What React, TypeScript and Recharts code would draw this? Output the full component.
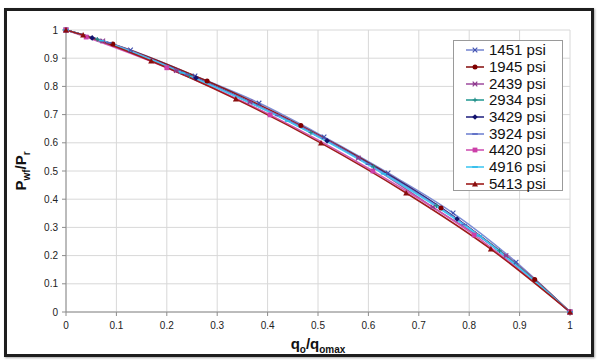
import React from "react";
import {
    LineChart, Line,
    XAxis, YAxis, CartesianGrid,
} from "recharts";

// ─── Data ────────────────────────────────────────────────────────────────────

const xTicks = [0, 0.1, 0.2, 0.3, 0.4, 0.5, 0.6, 0.7, 0.8, 0.9, 1];
const yTicks = [0, 0.1, 0.2, 0.3, 0.4, 0.5, 0.6, 0.7, 0.8, 0.9, 1];

const x1451 = [0, 0.128, 0.256, 0.383, 0.512, 0.639, 0.768, 0.893, 1];
const y1451 = [1, 0.929, 0.837, 0.741, 0.621, 0.493, 0.351, 0.177, 0];

const x1945 = [0, 0.093, 0.28, 0.466, 0.744, 0.93, 1];
const y1945 = [1, 0.95, 0.819, 0.661, 0.369, 0.115, 0];

const x2439 = [0, 0.073, 0.219, 0.365, 0.58, 0.728, 0.873, 1];
const y2439 = [1, 0.961, 0.856, 0.745, 0.546, 0.372, 0.2, 0];

const x2934 = [0, 0.062, 0.245, 0.486, 0.61, 0.735, 0.86, 1];
const y2934 = [1, 0.967, 0.838, 0.636, 0.515, 0.377, 0.217, 0];

const x3429 = [0, 0.052, 0.258, 0.518, 0.776, 1];
const y3429 = [1, 0.972, 0.83, 0.607, 0.33, 0];

const x3924 = [0, 0.085, 0.24, 0.42, 0.6, 0.79, 1];
const y3924 = [1, 0.955, 0.842, 0.697, 0.524, 0.31, 0];

const x4420 = [0, 0.04, 0.2, 0.405, 0.609, 0.81, 1];
const y4420 = [1, 0.975, 0.866, 0.699, 0.5, 0.273, 0];

const x4916 = [0, 0.07, 0.23, 0.44, 0.63, 0.82, 1];
const y4916 = [1, 0.962, 0.848, 0.677, 0.49, 0.27, 0];

const x5413 = [0, 0.034, 0.169, 0.337, 0.506, 0.675, 0.843, 1];
const y5413 = [1, 0.982, 0.89, 0.755, 0.599, 0.422, 0.223, 0];

const toPts = (xs: number[], ys: number[]) => xs.map((x, i) => ({ x, y: ys[i] }));

type Shape = "x" | "circle" | "star" | "plus" | "diamond" | "dash" | "square" | "triangle";

const SERIES: { name: string; data: { x: number; y: number }[]; line: string; mark: string; shape: Shape }[] = [
    { name: "1451 psi", data: toPts(x1451, y1451), line: "#7C8CD4", mark: "#3F4FAF", shape: "x" },
    { name: "1945 psi", data: toPts(x1945, y1945), line: "#8B1A1A", mark: "#800000", shape: "circle" },
    { name: "2439 psi", data: toPts(x2439, y2439), line: "#A455A4", mark: "#8E3A8E", shape: "star" },
    { name: "2934 psi", data: toPts(x2934, y2934), line: "#2E9E98", mark: "#1E8A85", shape: "plus" },
    { name: "3429 psi", data: toPts(x3429, y3429), line: "#2B2B85", mark: "#14146E", shape: "diamond" },
    { name: "3924 psi", data: toPts(x3924, y3924), line: "#7485D2", mark: "#5566C0", shape: "dash" },
    { name: "4420 psi", data: toPts(x4420, y4420), line: "#D056B4", mark: "#CC3FA8", shape: "square" },
    { name: "4916 psi", data: toPts(x4916, y4916), line: "#45C8F2", mark: "#2BB8E8", shape: "dash" },
    { name: "5413 psi", data: toPts(x5413, y5413), line: "#9E1B1B", mark: "#8A0E0E", shape: "triangle" },
];

const FONT = "'Liberation Sans', Arial, sans-serif";

// ─── Markers ──────────────────────────────────────────────────────────────────

function Marker({ cx, cy, shape, color }: { cx: number; cy: number; shape: Shape; color: string }) {
    const r = 2.3;
    switch (shape) {
        case "x":
            return (
                <g stroke={color} strokeWidth={1.1}>
                    <line x1={cx - r} y1={cy - r} x2={cx + r} y2={cy + r} />
                    <line x1={cx - r} y1={cy + r} x2={cx + r} y2={cy - r} />
                </g>
            );
        case "circle":
            return <circle cx={cx} cy={cy} r={2.5} fill={color} />;
        case "star":
            return (
                <g stroke={color} strokeWidth={1.2}>
                    <line x1={cx - r} y1={cy - r} x2={cx + r} y2={cy + r} />
                    <line x1={cx - r} y1={cy + r} x2={cx + r} y2={cy - r} />
                    <line x1={cx - r} y1={cy} x2={cx + r} y2={cy} />
                </g>
            );
        case "plus":
            return (
                <g stroke={color} strokeWidth={1.1}>
                    <line x1={cx - r} y1={cy} x2={cx + r} y2={cy} />
                    <line x1={cx} y1={cy - r} x2={cx} y2={cy + r} />
                </g>
            );
        case "diamond":
            return <polygon points={`${cx},${cy - 2.8} ${cx + 2.8},${cy} ${cx},${cy + 2.8} ${cx - 2.8},${cy}`} fill={color} />;
        case "dash":
            return <line x1={cx - 2.8} y1={cy} x2={cx + 2.8} y2={cy} stroke={color} strokeWidth={1.5} />;
        case "square":
            return <rect x={cx - 2.4} y={cy - 2.4} width={4.8} height={4.8} fill={color} />;
        case "triangle":
            return <polygon points={`${cx},${cy - 3} ${cx + 3},${cy + 2.4} ${cx - 3},${cy + 2.4}`} fill={color} />;
    }
    return null;
}

const makeDot = (shape: Shape, color: string) => (p: any) => (
    <Marker key={`${shape}-${p.index}`} cx={p.cx} cy={p.cy} shape={shape} color={color} />
);

// ─── Legend (absolute, Excel-style box) ─────────────────────────────────────

function LegendBox() {
    return (
        <div style={{
            position: "absolute", left: 453, top: 40,
            border: "1px solid #9A9A9A", background: "#fff", width: 110, height: 151,
            boxSizing: "border-box", padding: "1px 0 0 11px", fontFamily: FONT,
        }}>
            {SERIES.map((s) => (
                <div key={s.name} style={{ display: "flex", alignItems: "center", height: 16.7 }}>
                    <svg width={20} height={10} style={{ marginRight: 4 }}>
                        <line x1={1} y1={5} x2={19} y2={5} stroke={s.line} strokeWidth={1.6} />
                        <Marker cx={10} cy={5} shape={s.shape} color={s.mark} />
                    </svg>
                    <span style={{ fontSize: 15, color: "#111", lineHeight: "16px" }}>{s.name}</span>
                </div>
            ))}
        </div>
    );
}

// ─── Axis titles with subscripts ─────────────────────────────────────────────

function YTitle() {
    return (
        <text x={26} y={171} transform="rotate(-90 26 171)" textAnchor="middle"
            fontFamily={FONT} fontWeight="bold" fontSize={15} fill="#111">
            <tspan>P</tspan>
            <tspan fontSize={10} dy={4}>wf</tspan>
            <tspan dy={-4}>/P</tspan>
            <tspan fontSize={10} dy={4}>r</tspan>
        </text>
    );
}

function XTitle() {
    return (
        <text x={318} y={349} textAnchor="middle"
            fontFamily={FONT} fontWeight="bold" fontSize={15} fill="#111">
            <tspan>q</tspan>
            <tspan fontSize={10} dy={4}>o</tspan>
            <tspan dy={-4}>/q</tspan>
            <tspan fontSize={10} dy={4}>omax</tspan>
        </text>
    );
}

const TICK = { fill: "#222", fontSize: 10, fontFamily: FONT };

export default function App() {
    return (
        <div style={{ position: "absolute", left: 0, top: 0, width: 600, height: 362, background: "#fff" }}>
            <div style={{
                position: "absolute", left: 4, top: 8, width: 590, height: 349,
                border: "3px solid #1E1E1E", boxSizing: "border-box",
                boxShadow: "1px 1px 2px rgba(0,0,0,0.35)",
            }} />
            <div style={{ position: "absolute", left: 0, top: 0 }}>
                <LineChart width={600} height={362} margin={{ top: 30, right: 30, bottom: 20, left: 26 }}>
                    <CartesianGrid stroke="#D8D8D8" strokeWidth={1} />
                    <XAxis
                        type="number"
                        dataKey="x"
                        domain={[0, 1]}
                        ticks={xTicks}
                        tick={TICK}
                        height={30}
                        stroke="#8C8C8C"
                        tickSize={4}
                        tickMargin={6}
                        allowDuplicatedCategory={false}
                    />
                    <YAxis
                        type="number"
                        dataKey="y"
                        domain={[0, 1]}
                        ticks={yTicks}
                        tick={TICK}
                        width={40}
                        stroke="#8C8C8C"
                        tickSize={4}
                        tickMargin={4}
                    />
                    {SERIES.map((s) => (
                        <Line
                            key={s.name}
                            name={s.name}
                            data={s.data}
                            dataKey="y"
                            type="monotone"
                            stroke={s.line}
                            strokeWidth={1.5}
                            dot={makeDot(s.shape, s.mark)}
                            activeDot={false}
                            isAnimationActive={false}
                        />
                    ))}
                    <YTitle />
                    <XTitle />
                </LineChart>
            </div>
            <LegendBox />
        </div>
    );
}
